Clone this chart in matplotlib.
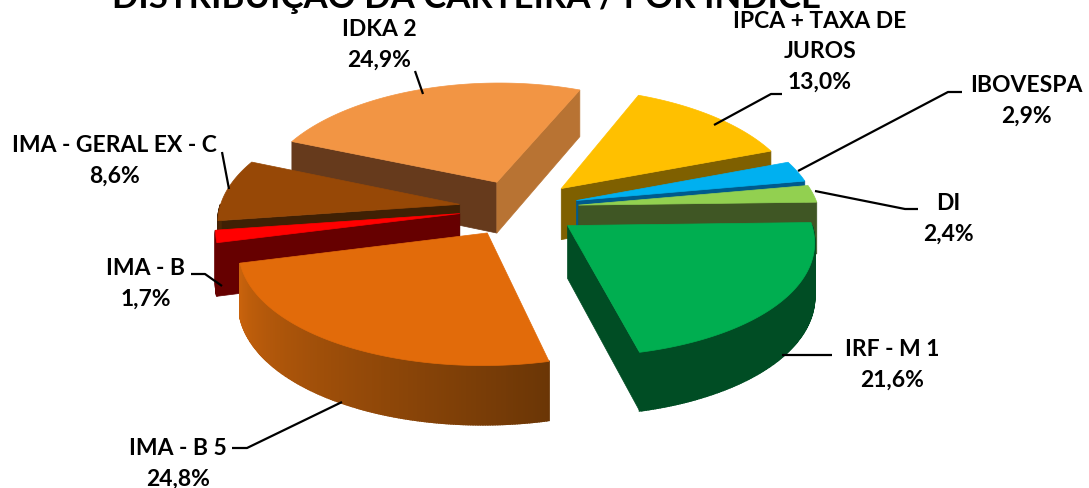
"""Exploded 3D style pie of the portfolio by index"""
import numpy as np
import matplotlib
matplotlib.use('Agg')
import matplotlib.pyplot as plt
from matplotlib.colors import to_rgb
from matplotlib.patches import Polygon

plt.rcParams['font.family'] = ['Lato', 'DejaVu Sans']

# clockwise from the right hand side
names = ['IRF - M 1', 'IMA - B 5', 'IMA - B', 'IMA - GERAL EX - C', 'IDKA 2',
         'IPCA + TAXA DE\nJUROS', 'IBOVESPA', 'DI']
values = [21.6, 24.8, 1.7, 8.6, 24.9, 13.0, 2.9, 2.4]
top_colors = ['#00AE50', '#E26B0A', '#FF0000', '#974806', '#F29544',
              '#FFC000', '#00B0F0', '#92D050']
side_colors = ['#004D24', '#6B3606', '#660000', '#3F2004', '#663A1C',
               '#7F6000', '#005A8C', '#3F5624']
arc_colors = ['#004D24', '#C8620C', '#660000', '#7A3A05', '#663A1C',
              '#7F6000', '#005A8C', '#3F5624']
extra_side_colors = {4: '#B87333'}

label_xy = [(892, 365), (178, 464), (146, 284), (114, 161), (379, 45),
            (820, 52), (1026, 101), (948, 219)]
leaders = [
    [(832, 356), (782, 356)],
    [(232, 449), (247, 449), (342, 403)],
    [(191, 275), (205, 275), (222, 287)],
    [(222, 153), (229, 190)],
    [(415, 72), (423, 95)],
    [(782, 95), (771, 95), (714, 126)],
    [(962, 93), (948, 93), (798, 172)],
    [(918, 210), (905, 210), (815, 192)],
]
paint_order = [4, 3, 2, 5, 6, 7, 0, 1]

CX, CY = 519, 209
RADIUS = 240
EXPLODE = 60
TILT = 0.475
DEPTH = 52
START_ANGLE = 1.5


def project(x, y):
    """Pie plane coordinates to picture pixels, with a little perspective"""
    x = np.asarray(x, dtype=float)
    y = np.asarray(y, dtype=float)
    sx = 1 / (1 + 0.12 * y / RADIUS)
    sy = 1 / (1 + 0.1 * y / RADIUS)
    return CX + x * sx, CY - TILT * y * sy, DEPTH * sy


def extrude(xs, ys, hs):
    return np.r_[np.c_[xs, ys], np.c_[xs, ys + hs][::-1]]


fig = plt.figure(figsize=(10.89, 4.89), dpi=100)
ax = fig.add_axes([0, 0, 1, 1])
ax.set_xlim(0, 1089)
ax.set_ylim(489, 0)
ax.axis('off')

spans = np.array(values) / sum(values) * 360
ends = np.cumsum(spans)
starts = ends - spans

for i in paint_order:
    a1, a2 = np.radians(START_ANGLE - starts[i]), np.radians(START_ANGLE - ends[i])
    mid = (a1 + a2) / 2
    ox, oy = EXPLODE * np.cos(mid), EXPLODE * np.sin(mid)
    angles = np.linspace(a1, a2, max(int(spans[i] * 2), 8))
    xs, ys, hs = project(ox + RADIUS * np.cos(angles), oy + RADIUS * np.sin(angles))
    ax_, ay_, ah_ = project(ox, oy)
    z = 2 + paint_order.index(i)

    # cut faces, only the ones turned to the viewer
    for end, normal, k in ((0, a1 + np.pi / 2, 0), (-1, a2 - np.pi / 2, 1)):
        if np.sin(normal) < 0:
            color = side_colors[i]
            if k == 1 and i in extra_side_colors:
                color = extra_side_colors[i]
            face = extrude(np.array([ax_, xs[end]]), np.array([ay_, ys[end]]),
                           np.array([ah_, hs[end]]))
            ax.add_patch(Polygon(face, closed=True, fc=color, ec=color, lw=0.5, zorder=z))

    # outer wall, shaded along the arc
    start_rgb = np.array(to_rgb(arc_colors[i]))
    end_rgb = np.array(to_rgb(side_colors[i]))
    for j in range(len(angles) - 1):
        if np.sin((angles[j] + angles[j + 1]) / 2) >= 0:
            continue
        t = j / (len(angles) - 2)
        color = end_rgb * (1 - t) + start_rgb * t
        wall = extrude(xs[j:j + 2], ys[j:j + 2], hs[j:j + 2])
        ax.add_patch(Polygon(wall, closed=True, fc=color, ec=color, lw=1.2, zorder=z))

    top = np.r_[[[ax_, ay_]], np.c_[xs, ys]]
    ax.add_patch(Polygon(top, closed=True, fc=top_colors[i], ec=top_colors[i], lw=0.5, zorder=z))

for line in leaders:
    pts = np.array(line)
    ax.plot(pts[:, 0], pts[:, 1], color='black', lw=1.6, zorder=20,
            solid_capstyle='butt')

for name, value, (x, y) in zip(names, values, label_xy):
    text = '{}\n{:.1f}%'.format(name, value).replace('.', ',')
    ax.text(x, y, text, ha='center', va='center', fontsize=16.5, fontweight='bold',
            color='black', linespacing=1.55, zorder=21)

ax.text(466, 8, 'DISTRIBUIÇÃO DA CARTEIRA / POR ÍNDICE', ha='center', va='baseline',
        fontsize=25, fontweight='bold', color='black', zorder=21)

fig.savefig('out.png', dpi=100, facecolor='white')
